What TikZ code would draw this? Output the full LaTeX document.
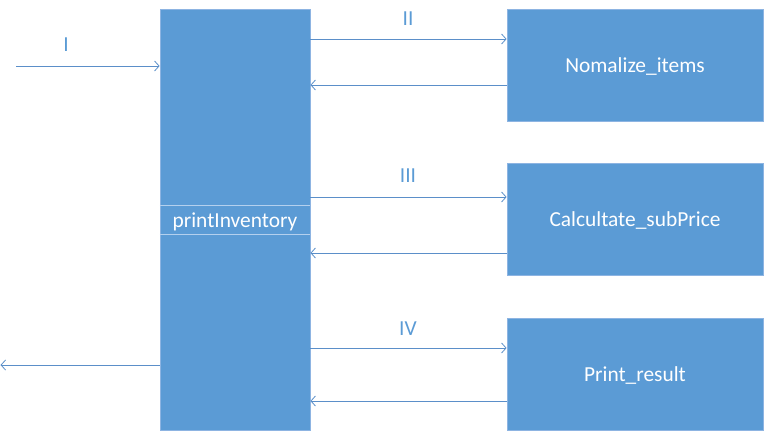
\documentclass[tikz,border=0pt]{standalone}
\usepackage{fontspec}
\setmainfont{Carlito}
\usetikzlibrary{arrows.meta}
\definecolor{boxfill}{HTML}{5B9BD5}
\definecolor{boxedge}{HTML}{8DB4E2}
\definecolor{bandline}{HTML}{B4D0EE}
\definecolor{linec}{HTML}{5B8FC9}
\definecolor{labc}{HTML}{5B9BD5}
\tikzset{
  blk/.style={draw=boxedge, line width=0.8pt, fill=boxfill, text=white, font=\fontsize{21.4}{25}\selectfont, inner sep=0pt, text height=18pt, text depth=4pt},
  arr/.style={draw=linec, line width=0.9pt, -{Straight Barb[length=4.5pt,width=10pt,line width=0.8pt]}},
  lab/.style={text=labc, font=\fontsize{21.4}{25}\selectfont, inner sep=0pt},
}
\begin{document}
\begin{tikzpicture}[x=1pt,y=-1pt]
\useasboundingbox (0,0) rectangle (769,439);
\node[blk, minimum width=150pt, minimum height=421pt] (main) at (235,219.5) {};
\node[blk, minimum width=256pt, minimum height=112pt] (n1) at (635,65) {Nomalize\_items};
\node[blk, minimum width=256pt, minimum height=112pt] (n2) at (635,219) {Calcultate\_subPrice};
\node[blk, minimum width=256pt, minimum height=112pt] (n3) at (635,374) {Print\_result};
\node[text=white, font=\fontsize{21.4}{25}\selectfont, inner sep=0pt, text height=18pt, text depth=4pt] (pl) at (235,220.5) {printInventory};
\draw[bandline, line width=0.9pt] (main.west |- 0,205) -- (main.east |- 0,205);
\draw[bandline, line width=0.9pt] (main.west |- 0,234) -- (main.east |- 0,234);
% input / output
\coordinate (in) at (16,66);
\coordinate (out) at (0.5,365);
\draw[arr] (in) -- (main.west |- in);
\draw[arr] (main.west |- out) -- (out);
\node[lab] (l1) at (66,45) {I};
% calls
\draw[arr] (main.east |- 0,39) -- (n1.west |- 0,39);
\draw[arr] (n1.west |- 0,85) -- (main.east |- 0,85);
\node[lab] (l2) at (408,19) {II};
\draw[arr] (main.east |- 0,197) -- (n2.west |- 0,197);
\draw[arr] (n2.west |- 0,253) -- (main.east |- 0,253);
\node[lab] (l3) at (408,176) {III};
\draw[arr] (main.east |- 0,348) -- (n3.west |- 0,348);
\draw[arr] (n3.west |- 0,401) -- (main.east |- 0,401);
\node[lab] (l4) at (408,329) {IV};
\end{tikzpicture}
\end{document}
